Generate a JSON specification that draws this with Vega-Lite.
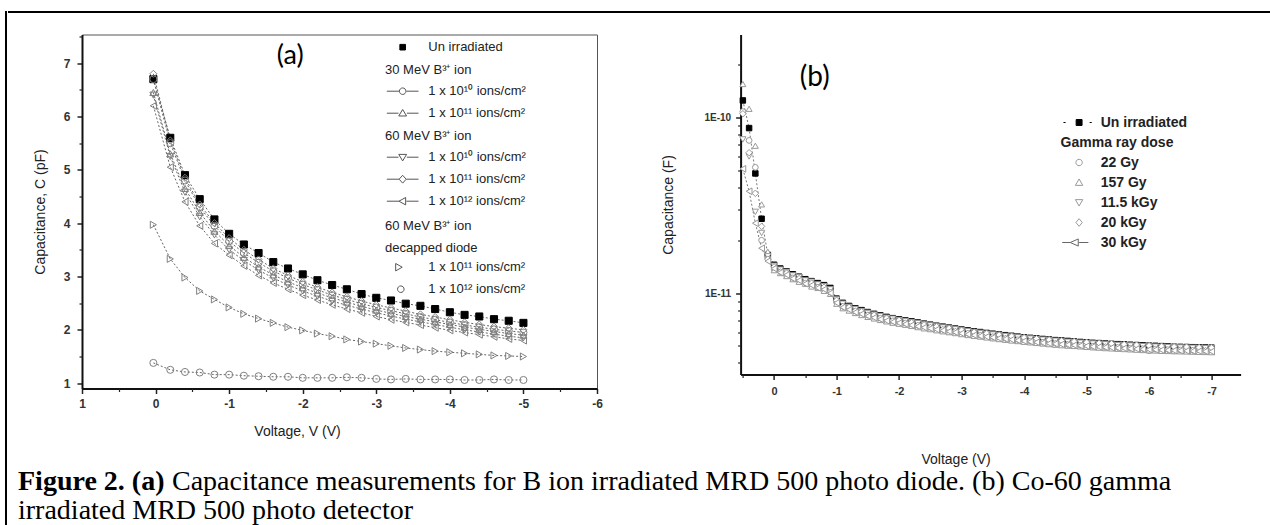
{
"$schema":"https://vega.github.io/schema/vega-lite/v6.json",
"padding":{"left":5,"top":5,"right":0,"bottom":0},
"background":"white",
"config":{"view":{"stroke":null},"font":"Liberation Sans"},
"datasets":{
"A":[
{"s":"a0","v":0.03,"c":6.7},{"s":"a0","v":-0.2,"c":5.6},{"s":"a0","v":-0.4,"c":4.9},{"s":"a0","v":-0.6,"c":4.45},{"s":"a0","v":-0.8,"c":4.07},{"s":"a0","v":-1,"c":3.8},{"s":"a0","v":-1.2,"c":3.6},{"s":"a0","v":-1.4,"c":3.44},{"s":"a0","v":-1.6,"c":3.27},{"s":"a0","v":-1.8,"c":3.15},{"s":"a0","v":-2,"c":3.04},{"s":"a0","v":-2.2,"c":2.93},{"s":"a0","v":-2.4,"c":2.84},{"s":"a0","v":-2.6,"c":2.76},{"s":"a0","v":-2.8,"c":2.67},{"s":"a0","v":-3,"c":2.6},{"s":"a0","v":-3.2,"c":2.55},{"s":"a0","v":-3.4,"c":2.49},{"s":"a0","v":-3.6,"c":2.45},{"s":"a0","v":-3.8,"c":2.39},{"s":"a0","v":-4,"c":2.33},{"s":"a0","v":-4.2,"c":2.28},{"s":"a0","v":-4.4,"c":2.25},{"s":"a0","v":-4.6,"c":2.2},{"s":"a0","v":-4.8,"c":2.17},{"s":"a0","v":-5,"c":2.13},
{"s":"a1","v":0.03,"c":6.7},{"s":"a1","v":-0.2,"c":5.5},{"s":"a1","v":-0.4,"c":4.8},{"s":"a1","v":-0.6,"c":4.3},{"s":"a1","v":-0.8,"c":3.95},{"s":"a1","v":-1,"c":3.66},{"s":"a1","v":-1.2,"c":3.44},{"s":"a1","v":-1.4,"c":3.26},{"s":"a1","v":-1.6,"c":3.1},{"s":"a1","v":-1.8,"c":2.97},{"s":"a1","v":-2,"c":2.85},{"s":"a1","v":-2.2,"c":2.75},{"s":"a1","v":-2.4,"c":2.65},{"s":"a1","v":-2.6,"c":2.57},{"s":"a1","v":-2.8,"c":2.49},{"s":"a1","v":-3,"c":2.42},{"s":"a1","v":-3.2,"c":2.36},{"s":"a1","v":-3.4,"c":2.3},{"s":"a1","v":-3.6,"c":2.24},{"s":"a1","v":-3.8,"c":2.19},{"s":"a1","v":-4,"c":2.14},{"s":"a1","v":-4.2,"c":2.09},{"s":"a1","v":-4.4,"c":2.05},{"s":"a1","v":-4.6,"c":2.01},{"s":"a1","v":-4.8,"c":1.98},{"s":"a1","v":-5,"c":1.95},
{"s":"a2","v":0.03,"c":6.45},{"s":"a2","v":-0.2,"c":5.3},{"s":"a2","v":-0.4,"c":4.65},{"s":"a2","v":-0.6,"c":4.2},{"s":"a2","v":-0.8,"c":3.85},{"s":"a2","v":-1,"c":3.58},{"s":"a2","v":-1.2,"c":3.36},{"s":"a2","v":-1.4,"c":3.18},{"s":"a2","v":-1.6,"c":3.03},{"s":"a2","v":-1.8,"c":2.9},{"s":"a2","v":-2,"c":2.79},{"s":"a2","v":-2.2,"c":2.69},{"s":"a2","v":-2.4,"c":2.6},{"s":"a2","v":-2.6,"c":2.52},{"s":"a2","v":-2.8,"c":2.44},{"s":"a2","v":-3,"c":2.37},{"s":"a2","v":-3.2,"c":2.31},{"s":"a2","v":-3.4,"c":2.25},{"s":"a2","v":-3.6,"c":2.2},{"s":"a2","v":-3.8,"c":2.15},{"s":"a2","v":-4,"c":2.1},{"s":"a2","v":-4.2,"c":2.05},{"s":"a2","v":-4.4,"c":2.01},{"s":"a2","v":-4.6,"c":1.97},{"s":"a2","v":-4.8,"c":1.93},{"s":"a2","v":-5,"c":1.9},
{"s":"a3","v":0.03,"c":6.4},{"s":"a3","v":-0.2,"c":5.25},{"s":"a3","v":-0.4,"c":4.58},{"s":"a3","v":-0.6,"c":4.12},{"s":"a3","v":-0.8,"c":3.78},{"s":"a3","v":-1,"c":3.5},{"s":"a3","v":-1.2,"c":3.3},{"s":"a3","v":-1.4,"c":3.12},{"s":"a3","v":-1.6,"c":2.97},{"s":"a3","v":-1.8,"c":2.84},{"s":"a3","v":-2,"c":2.73},{"s":"a3","v":-2.2,"c":2.63},{"s":"a3","v":-2.4,"c":2.54},{"s":"a3","v":-2.6,"c":2.46},{"s":"a3","v":-2.8,"c":2.39},{"s":"a3","v":-3,"c":2.32},{"s":"a3","v":-3.2,"c":2.26},{"s":"a3","v":-3.4,"c":2.2},{"s":"a3","v":-3.6,"c":2.15},{"s":"a3","v":-3.8,"c":2.1},{"s":"a3","v":-4,"c":2.05},{"s":"a3","v":-4.2,"c":2.0},{"s":"a3","v":-4.4,"c":1.96},{"s":"a3","v":-4.6,"c":1.92},{"s":"a3","v":-4.8,"c":1.88},{"s":"a3","v":-5,"c":1.85},
{"s":"a4","v":0.03,"c":6.8},{"s":"a4","v":-0.2,"c":5.55},{"s":"a4","v":-0.4,"c":4.85},{"s":"a4","v":-0.6,"c":4.35},{"s":"a4","v":-0.8,"c":4.0},{"s":"a4","v":-1,"c":3.72},{"s":"a4","v":-1.2,"c":3.5},{"s":"a4","v":-1.4,"c":3.32},{"s":"a4","v":-1.6,"c":3.15},{"s":"a4","v":-1.8,"c":3.02},{"s":"a4","v":-2,"c":2.9},{"s":"a4","v":-2.2,"c":2.8},{"s":"a4","v":-2.4,"c":2.7},{"s":"a4","v":-2.6,"c":2.62},{"s":"a4","v":-2.8,"c":2.54},{"s":"a4","v":-3,"c":2.47},{"s":"a4","v":-3.2,"c":2.41},{"s":"a4","v":-3.4,"c":2.35},{"s":"a4","v":-3.6,"c":2.29},{"s":"a4","v":-3.8,"c":2.24},{"s":"a4","v":-4,"c":2.19},{"s":"a4","v":-4.2,"c":2.14},{"s":"a4","v":-4.4,"c":2.1},{"s":"a4","v":-4.6,"c":2.06},{"s":"a4","v":-4.8,"c":2.03},{"s":"a4","v":-5,"c":2.0},
{"s":"a5","v":0.03,"c":6.2},{"s":"a5","v":-0.2,"c":5.05},{"s":"a5","v":-0.4,"c":4.4},{"s":"a5","v":-0.6,"c":3.95},{"s":"a5","v":-0.8,"c":3.62},{"s":"a5","v":-1,"c":3.4},{"s":"a5","v":-1.2,"c":3.2},{"s":"a5","v":-1.4,"c":3.02},{"s":"a5","v":-1.6,"c":2.88},{"s":"a5","v":-1.8,"c":2.76},{"s":"a5","v":-2,"c":2.65},{"s":"a5","v":-2.2,"c":2.56},{"s":"a5","v":-2.4,"c":2.47},{"s":"a5","v":-2.6,"c":2.39},{"s":"a5","v":-2.8,"c":2.32},{"s":"a5","v":-3,"c":2.25},{"s":"a5","v":-3.2,"c":2.19},{"s":"a5","v":-3.4,"c":2.14},{"s":"a5","v":-3.6,"c":2.09},{"s":"a5","v":-3.8,"c":2.04},{"s":"a5","v":-4,"c":1.99},{"s":"a5","v":-4.2,"c":1.95},{"s":"a5","v":-4.4,"c":1.91},{"s":"a5","v":-4.6,"c":1.87},{"s":"a5","v":-4.8,"c":1.83},{"s":"a5","v":-5,"c":1.8},
{"s":"a6","v":0.03,"c":3.97},{"s":"a6","v":-0.2,"c":3.33},{"s":"a6","v":-0.4,"c":2.98},{"s":"a6","v":-0.6,"c":2.73},{"s":"a6","v":-0.8,"c":2.57},{"s":"a6","v":-1,"c":2.42},{"s":"a6","v":-1.2,"c":2.3},{"s":"a6","v":-1.4,"c":2.21},{"s":"a6","v":-1.6,"c":2.13},{"s":"a6","v":-1.8,"c":2.05},{"s":"a6","v":-2,"c":1.99},{"s":"a6","v":-2.2,"c":1.93},{"s":"a6","v":-2.4,"c":1.88},{"s":"a6","v":-2.6,"c":1.82},{"s":"a6","v":-2.8,"c":1.78},{"s":"a6","v":-3,"c":1.74},{"s":"a6","v":-3.2,"c":1.7},{"s":"a6","v":-3.4,"c":1.66},{"s":"a6","v":-3.6,"c":1.63},{"s":"a6","v":-3.8,"c":1.6},{"s":"a6","v":-4,"c":1.58},{"s":"a6","v":-4.2,"c":1.56},{"s":"a6","v":-4.4,"c":1.54},{"s":"a6","v":-4.6,"c":1.52},{"s":"a6","v":-4.8,"c":1.51},{"s":"a6","v":-5,"c":1.5},
{"s":"a7","v":0.03,"c":1.38},{"s":"a7","v":-0.2,"c":1.25},{"s":"a7","v":-0.4,"c":1.21},{"s":"a7","v":-0.6,"c":1.2},{"s":"a7","v":-0.8,"c":1.16},{"s":"a7","v":-1,"c":1.16},{"s":"a7","v":-1.2,"c":1.14},{"s":"a7","v":-1.4,"c":1.13},{"s":"a7","v":-1.6,"c":1.12},{"s":"a7","v":-1.8,"c":1.12},{"s":"a7","v":-2,"c":1.1},{"s":"a7","v":-2.2,"c":1.1},{"s":"a7","v":-2.4,"c":1.1},{"s":"a7","v":-2.6,"c":1.11},{"s":"a7","v":-2.8,"c":1.1},{"s":"a7","v":-3,"c":1.08},{"s":"a7","v":-3.2,"c":1.07},{"s":"a7","v":-3.4,"c":1.08},{"s":"a7","v":-3.6,"c":1.07},{"s":"a7","v":-3.8,"c":1.07},{"s":"a7","v":-4,"c":1.07},{"s":"a7","v":-4.2,"c":1.06},{"s":"a7","v":-4.4,"c":1.06},{"s":"a7","v":-4.6,"c":1.07},{"s":"a7","v":-4.8,"c":1.06},{"s":"a7","v":-5,"c":1.06}
],
"B":[
{"s":"u","v":0.5,"c":125e-12},{"s":"u","v":0.4,"c":87e-12},{"s":"u","v":0.3,"c":48e-12},{"s":"u","v":0.2,"c":26.5e-12},{"s":"u","v":0.1,"c":16.5e-12},{"s":"u","v":0,"c":14.5e-12},{"s":"u","v":-0.1,"c":13.8e-12},{"s":"u","v":-0.2,"c":13.3e-12},{"s":"u","v":-0.3,"c":12.8e-12},{"s":"u","v":-0.4,"c":12.4e-12},{"s":"u","v":-0.5,"c":12.0e-12},{"s":"u","v":-0.6,"c":11.7e-12},{"s":"u","v":-0.7,"c":11.4e-12},{"s":"u","v":-0.8,"c":11.1e-12},{"s":"u","v":-0.9,"c":10.7e-12},{"s":"u","v":-1.0,"c":9.3e-12},{"s":"u","v":-1.1,"c":8.8e-12},{"s":"u","v":-1.2,"c":8.45e-12},{"s":"u","v":-1.3,"c":8.2e-12},{"s":"u","v":-1.4,"c":8.0e-12},{"s":"u","v":-1.5,"c":7.8e-12},{"s":"u","v":-1.6,"c":7.62e-12},{"s":"u","v":-1.7,"c":7.47e-12},{"s":"u","v":-1.8,"c":7.32e-12},{"s":"u","v":-1.9,"c":7.2e-12},{"s":"u","v":-2.0,"c":7.1e-12},{"s":"u","v":-2.1,"c":7.0e-12},{"s":"u","v":-2.2,"c":6.9e-12},{"s":"u","v":-2.3,"c":6.8e-12},{"s":"u","v":-2.4,"c":6.7e-12},{"s":"u","v":-2.5,"c":6.61e-12},{"s":"u","v":-2.6,"c":6.52e-12},{"s":"u","v":-2.7,"c":6.44e-12},{"s":"u","v":-2.8,"c":6.36e-12},{"s":"u","v":-2.9,"c":6.28e-12},{"s":"u","v":-3.0,"c":6.2e-12},{"s":"u","v":-3.1,"c":6.13e-12},{"s":"u","v":-3.2,"c":6.06e-12},{"s":"u","v":-3.3,"c":6.0e-12},{"s":"u","v":-3.4,"c":5.93e-12},{"s":"u","v":-3.5,"c":5.87e-12},{"s":"u","v":-3.6,"c":5.81e-12},{"s":"u","v":-3.7,"c":5.76e-12},{"s":"u","v":-3.8,"c":5.71e-12},{"s":"u","v":-3.9,"c":5.65e-12},{"s":"u","v":-4.0,"c":5.6e-12},{"s":"u","v":-4.1,"c":5.56e-12},{"s":"u","v":-4.2,"c":5.52e-12},{"s":"u","v":-4.3,"c":5.48e-12},{"s":"u","v":-4.4,"c":5.44e-12},{"s":"u","v":-4.5,"c":5.4e-12},{"s":"u","v":-4.6,"c":5.37e-12},{"s":"u","v":-4.7,"c":5.34e-12},{"s":"u","v":-4.8,"c":5.3e-12},{"s":"u","v":-4.9,"c":5.27e-12},{"s":"u","v":-5.0,"c":5.24e-12},{"s":"u","v":-5.1,"c":5.21e-12},{"s":"u","v":-5.2,"c":5.19e-12},{"s":"u","v":-5.3,"c":5.16e-12},{"s":"u","v":-5.4,"c":5.14e-12},{"s":"u","v":-5.5,"c":5.12e-12},{"s":"u","v":-5.6,"c":5.1e-12},{"s":"u","v":-5.7,"c":5.08e-12},{"s":"u","v":-5.8,"c":5.06e-12},{"s":"u","v":-5.9,"c":5.04e-12},{"s":"u","v":-6.0,"c":5.02e-12},{"s":"u","v":-6.1,"c":5.01e-12},{"s":"u","v":-6.2,"c":4.99e-12},{"s":"u","v":-6.3,"c":4.97e-12},{"s":"u","v":-6.4,"c":4.95e-12},{"s":"u","v":-6.5,"c":4.94e-12},{"s":"u","v":-6.6,"c":4.93e-12},{"s":"u","v":-6.7,"c":4.92e-12},{"s":"u","v":-6.8,"c":4.91e-12},{"s":"u","v":-6.9,"c":4.9e-12},{"s":"u","v":-7.0,"c":4.89e-12},
{"s":"g1","v":0.5,"c":108e-12},{"s":"g1","v":0.4,"c":74e-12},{"s":"g1","v":0.3,"c":52e-12},{"s":"g1","v":0.2,"c":20e-12},{"s":"g1","v":0.1,"c":15.8e-12},{"s":"g1","v":0,"c":13.7e-12},{"s":"g1","v":-0.1,"c":13.3e-12},{"s":"g1","v":-0.2,"c":12.6e-12},{"s":"g1","v":-0.3,"c":12.3e-12},{"s":"g1","v":-0.4,"c":11.8e-12},{"s":"g1","v":-0.5,"c":11.5e-12},{"s":"g1","v":-0.6,"c":11.1e-12},{"s":"g1","v":-0.7,"c":10.9e-12},{"s":"g1","v":-0.8,"c":10.5e-12},{"s":"g1","v":-0.9,"c":10.2e-12},{"s":"g1","v":-1.0,"c":8.9e-12},{"s":"g1","v":-1.1,"c":8.3e-12},{"s":"g1","v":-1.2,"c":8.15e-12},{"s":"g1","v":-1.3,"c":7.8e-12},{"s":"g1","v":-1.4,"c":7.7e-12},{"s":"g1","v":-1.5,"c":7.45e-12},{"s":"g1","v":-1.6,"c":7.35e-12},{"s":"g1","v":-1.7,"c":7.15e-12},{"s":"g1","v":-1.8,"c":7.05e-12},{"s":"g1","v":-1.9,"c":6.9e-12},{"s":"g1","v":-2.0,"c":6.85e-12},{"s":"g1","v":-2.1,"c":6.7e-12},{"s":"g1","v":-2.2,"c":6.65e-12},{"s":"g1","v":-2.3,"c":6.5e-12},{"s":"g1","v":-2.4,"c":6.45e-12},{"s":"g1","v":-2.5,"c":6.3e-12},{"s":"g1","v":-2.6,"c":6.3e-12},{"s":"g1","v":-2.7,"c":6.15e-12},{"s":"g1","v":-2.8,"c":6.12e-12},{"s":"g1","v":-2.9,"c":6.0e-12},{"s":"g1","v":-3.0,"c":5.98e-12},{"s":"g1","v":-3.1,"c":5.85e-12},{"s":"g1","v":-3.2,"c":5.84e-12},{"s":"g1","v":-3.3,"c":5.72e-12},{"s":"g1","v":-3.4,"c":5.72e-12},{"s":"g1","v":-3.5,"c":5.55e-12},{"s":"g1","v":-3.6,"c":5.6e-12},{"s":"g1","v":-3.7,"c":5.5e-12},{"s":"g1","v":-3.8,"c":5.5e-12},{"s":"g1","v":-3.9,"c":5.4e-12},{"s":"g1","v":-4.0,"c":5.41e-12},{"s":"g1","v":-4.1,"c":5.3e-12},{"s":"g1","v":-4.2,"c":5.33e-12},{"s":"g1","v":-4.3,"c":5.22e-12},{"s":"g1","v":-4.4,"c":5.26e-12},{"s":"g1","v":-4.5,"c":5.15e-12},{"s":"g1","v":-4.6,"c":5.19e-12},{"s":"g1","v":-4.7,"c":5.08e-12},{"s":"g1","v":-4.8,"c":5.14e-12},{"s":"g1","v":-4.9,"c":5.03e-12},{"s":"g1","v":-5.0,"c":5.08e-12},{"s":"g1","v":-5.1,"c":4.97e-12},{"s":"g1","v":-5.2,"c":5.03e-12},{"s":"g1","v":-5.3,"c":4.93e-12},{"s":"g1","v":-5.4,"c":4.98e-12},{"s":"g1","v":-5.5,"c":4.88e-12},{"s":"g1","v":-5.6,"c":4.95e-12},{"s":"g1","v":-5.7,"c":4.85e-12},{"s":"g1","v":-5.8,"c":4.9e-12},{"s":"g1","v":-5.9,"c":4.78e-12},{"s":"g1","v":-6.0,"c":4.7e-12},{"s":"g1","v":-6.1,"c":4.8e-12},{"s":"g1","v":-6.2,"c":4.84e-12},{"s":"g1","v":-6.3,"c":4.75e-12},{"s":"g1","v":-6.4,"c":4.68e-12},{"s":"g1","v":-6.5,"c":4.77e-12},{"s":"g1","v":-6.6,"c":4.8e-12},{"s":"g1","v":-6.7,"c":4.7e-12},{"s":"g1","v":-6.8,"c":4.76e-12},{"s":"g1","v":-6.9,"c":4.72e-12},{"s":"g1","v":-7.0,"c":4.74e-12},
{"s":"g2","v":0.5,"c":155e-12},{"s":"g2","v":0.4,"c":112e-12},{"s":"g2","v":0.3,"c":69e-12},{"s":"g2","v":0.2,"c":32e-12},{"s":"g2","v":0.1,"c":17.2e-12},{"s":"g2","v":0,"c":13.5e-12},{"s":"g2","v":-0.1,"c":13.0e-12},{"s":"g2","v":-0.2,"c":12.5e-12},{"s":"g2","v":-0.3,"c":12.0e-12},{"s":"g2","v":-0.4,"c":11.6e-12},{"s":"g2","v":-0.5,"c":11.3e-12},{"s":"g2","v":-0.6,"c":10.9e-12},{"s":"g2","v":-0.7,"c":10.7e-12},{"s":"g2","v":-0.8,"c":10.3e-12},{"s":"g2","v":-0.9,"c":9.9e-12},{"s":"g2","v":-1.0,"c":8.7e-12},{"s":"g2","v":-1.1,"c":8.2e-12},{"s":"g2","v":-1.2,"c":7.95e-12},{"s":"g2","v":-1.3,"c":7.7e-12},{"s":"g2","v":-1.4,"c":7.5e-12},{"s":"g2","v":-1.5,"c":7.32e-12},{"s":"g2","v":-1.6,"c":7.17e-12},{"s":"g2","v":-1.7,"c":7.03e-12},{"s":"g2","v":-1.8,"c":6.9e-12},{"s":"g2","v":-1.9,"c":6.78e-12},{"s":"g2","v":-2.0,"c":6.69e-12},{"s":"g2","v":-2.1,"c":6.6e-12},{"s":"g2","v":-2.2,"c":6.5e-12},{"s":"g2","v":-2.3,"c":6.4e-12},{"s":"g2","v":-2.4,"c":6.3e-12},{"s":"g2","v":-2.5,"c":6.23e-12},{"s":"g2","v":-2.6,"c":6.14e-12},{"s":"g2","v":-2.7,"c":6.06e-12},{"s":"g2","v":-2.8,"c":5.99e-12},{"s":"g2","v":-2.9,"c":5.92e-12},{"s":"g2","v":-3.0,"c":5.84e-12},{"s":"g2","v":-3.1,"c":5.77e-12},{"s":"g2","v":-3.2,"c":5.71e-12},{"s":"g2","v":-3.3,"c":5.65e-12},{"s":"g2","v":-3.4,"c":5.59e-12},{"s":"g2","v":-3.5,"c":5.53e-12},{"s":"g2","v":-3.6,"c":5.47e-12},{"s":"g2","v":-3.7,"c":5.42e-12},{"s":"g2","v":-3.8,"c":5.37e-12},{"s":"g2","v":-3.9,"c":5.33e-12},{"s":"g2","v":-4.0,"c":5.28e-12},{"s":"g2","v":-4.1,"c":5.24e-12},{"s":"g2","v":-4.2,"c":5.2e-12},{"s":"g2","v":-4.3,"c":5.16e-12},{"s":"g2","v":-4.4,"c":5.12e-12},{"s":"g2","v":-4.5,"c":5.08e-12},{"s":"g2","v":-4.6,"c":5.05e-12},{"s":"g2","v":-4.7,"c":5.02e-12},{"s":"g2","v":-4.8,"c":5.0e-12},{"s":"g2","v":-4.9,"c":4.97e-12},{"s":"g2","v":-5.0,"c":4.94e-12},{"s":"g2","v":-5.1,"c":4.91e-12},{"s":"g2","v":-5.2,"c":4.89e-12},{"s":"g2","v":-5.3,"c":4.86e-12},{"s":"g2","v":-5.4,"c":4.84e-12},{"s":"g2","v":-5.5,"c":4.82e-12},{"s":"g2","v":-5.6,"c":4.8e-12},{"s":"g2","v":-5.7,"c":4.78e-12},{"s":"g2","v":-5.8,"c":4.76e-12},{"s":"g2","v":-5.9,"c":4.74e-12},{"s":"g2","v":-6.0,"c":4.72e-12},{"s":"g2","v":-6.1,"c":4.71e-12},{"s":"g2","v":-6.2,"c":4.69e-12},{"s":"g2","v":-6.3,"c":4.68e-12},{"s":"g2","v":-6.4,"c":4.67e-12},{"s":"g2","v":-6.5,"c":4.66e-12},{"s":"g2","v":-6.6,"c":4.65e-12},{"s":"g2","v":-6.7,"c":4.64e-12},{"s":"g2","v":-6.8,"c":4.63e-12},{"s":"g2","v":-6.9,"c":4.62e-12},{"s":"g2","v":-7.0,"c":4.61e-12},
{"s":"g3","v":0.5,"c":75e-12},{"s":"g3","v":0.4,"c":60e-12},{"s":"g3","v":0.3,"c":29e-12},{"s":"g3","v":0.2,"c":22e-12},{"s":"g3","v":0.1,"c":16.2e-12},{"s":"g3","v":0,"c":14.3e-12},{"s":"g3","v":-0.1,"c":13.6e-12},{"s":"g3","v":-0.2,"c":13.2e-12},{"s":"g3","v":-0.3,"c":12.6e-12},{"s":"g3","v":-0.4,"c":12.3e-12},{"s":"g3","v":-0.5,"c":11.8e-12},{"s":"g3","v":-0.6,"c":11.6e-12},{"s":"g3","v":-0.7,"c":11.2e-12},{"s":"g3","v":-0.8,"c":10.95e-12},{"s":"g3","v":-0.9,"c":10.5e-12},{"s":"g3","v":-1.0,"c":9.2e-12},{"s":"g3","v":-1.1,"c":8.7e-12},{"s":"g3","v":-1.2,"c":8.35e-12},{"s":"g3","v":-1.3,"c":8.12e-12},{"s":"g3","v":-1.4,"c":7.9e-12},{"s":"g3","v":-1.5,"c":7.72e-12},{"s":"g3","v":-1.6,"c":7.54e-12},{"s":"g3","v":-1.7,"c":7.4e-12},{"s":"g3","v":-1.8,"c":7.24e-12},{"s":"g3","v":-1.9,"c":7.15e-12},{"s":"g3","v":-2.0,"c":7.03e-12},{"s":"g3","v":-2.1,"c":6.94e-12},{"s":"g3","v":-2.2,"c":6.83e-12},{"s":"g3","v":-2.3,"c":6.74e-12},{"s":"g3","v":-2.4,"c":6.63e-12},{"s":"g3","v":-2.5,"c":6.55e-12},{"s":"g3","v":-2.6,"c":6.46e-12},{"s":"g3","v":-2.7,"c":6.37e-12},{"s":"g3","v":-2.8,"c":6.3e-12},{"s":"g3","v":-2.9,"c":6.22e-12},{"s":"g3","v":-3.0,"c":6.14e-12},{"s":"g3","v":-3.1,"c":6.07e-12},{"s":"g3","v":-3.2,"c":6.0e-12},{"s":"g3","v":-3.3,"c":5.94e-12},{"s":"g3","v":-3.4,"c":5.87e-12},{"s":"g3","v":-3.5,"c":5.81e-12},{"s":"g3","v":-3.6,"c":5.75e-12},{"s":"g3","v":-3.7,"c":5.7e-12},{"s":"g3","v":-3.8,"c":5.65e-12},{"s":"g3","v":-3.9,"c":5.6e-12},{"s":"g3","v":-4.0,"c":5.55e-12},{"s":"g3","v":-4.1,"c":5.51e-12},{"s":"g3","v":-4.2,"c":5.47e-12},{"s":"g3","v":-4.3,"c":5.43e-12},{"s":"g3","v":-4.4,"c":5.39e-12},{"s":"g3","v":-4.5,"c":5.35e-12},{"s":"g3","v":-4.6,"c":5.31e-12},{"s":"g3","v":-4.7,"c":5.28e-12},{"s":"g3","v":-4.8,"c":5.25e-12},{"s":"g3","v":-4.9,"c":5.22e-12},{"s":"g3","v":-5.0,"c":5.19e-12},{"s":"g3","v":-5.1,"c":5.16e-12},{"s":"g3","v":-5.2,"c":5.14e-12},{"s":"g3","v":-5.3,"c":5.11e-12},{"s":"g3","v":-5.4,"c":5.09e-12},{"s":"g3","v":-5.5,"c":5.07e-12},{"s":"g3","v":-5.6,"c":5.05e-12},{"s":"g3","v":-5.7,"c":5.03e-12},{"s":"g3","v":-5.8,"c":5.01e-12},{"s":"g3","v":-5.9,"c":4.99e-12},{"s":"g3","v":-6.0,"c":4.97e-12},{"s":"g3","v":-6.1,"c":4.96e-12},{"s":"g3","v":-6.2,"c":4.94e-12},{"s":"g3","v":-6.3,"c":4.93e-12},{"s":"g3","v":-6.4,"c":4.91e-12},{"s":"g3","v":-6.5,"c":4.9e-12},{"s":"g3","v":-6.6,"c":4.89e-12},{"s":"g3","v":-6.7,"c":4.88e-12},{"s":"g3","v":-6.8,"c":4.87e-12},{"s":"g3","v":-6.9,"c":4.86e-12},{"s":"g3","v":-7.0,"c":4.85e-12},
{"s":"g4","v":0.5,"c":105e-12},{"s":"g4","v":0.4,"c":63e-12},{"s":"g4","v":0.3,"c":37e-12},{"s":"g4","v":0.2,"c":24e-12},{"s":"g4","v":0.1,"c":15.6e-12},{"s":"g4","v":0,"c":14.1e-12},{"s":"g4","v":-0.1,"c":13.2e-12},{"s":"g4","v":-0.2,"c":13.0e-12},{"s":"g4","v":-0.3,"c":12.2e-12},{"s":"g4","v":-0.4,"c":12.1e-12},{"s":"g4","v":-0.5,"c":11.4e-12},{"s":"g4","v":-0.6,"c":11.4e-12},{"s":"g4","v":-0.7,"c":10.8e-12},{"s":"g4","v":-0.8,"c":10.8e-12},{"s":"g4","v":-0.9,"c":10.1e-12},{"s":"g4","v":-1.0,"c":9.1e-12},{"s":"g4","v":-1.1,"c":8.4e-12},{"s":"g4","v":-1.2,"c":8.3e-12},{"s":"g4","v":-1.3,"c":7.9e-12},{"s":"g4","v":-1.4,"c":7.85e-12},{"s":"g4","v":-1.5,"c":7.5e-12},{"s":"g4","v":-1.6,"c":7.5e-12},{"s":"g4","v":-1.7,"c":7.2e-12},{"s":"g4","v":-1.8,"c":7.2e-12},{"s":"g4","v":-1.9,"c":6.95e-12},{"s":"g4","v":-2.0,"c":7.0e-12},{"s":"g4","v":-2.1,"c":6.75e-12},{"s":"g4","v":-2.2,"c":6.8e-12},{"s":"g4","v":-2.3,"c":6.55e-12},{"s":"g4","v":-2.4,"c":6.6e-12},{"s":"g4","v":-2.5,"c":6.38e-12},{"s":"g4","v":-2.6,"c":6.45e-12},{"s":"g4","v":-2.7,"c":6.2e-12},{"s":"g4","v":-2.8,"c":6.3e-12},{"s":"g4","v":-2.9,"c":6.05e-12},{"s":"g4","v":-3.0,"c":6.15e-12},{"s":"g4","v":-3.1,"c":5.9e-12},{"s":"g4","v":-3.2,"c":6.0e-12},{"s":"g4","v":-3.3,"c":5.76e-12},{"s":"g4","v":-3.4,"c":5.9e-12},{"s":"g4","v":-3.5,"c":5.64e-12},{"s":"g4","v":-3.6,"c":5.78e-12},{"s":"g4","v":-3.7,"c":5.52e-12},{"s":"g4","v":-3.8,"c":5.68e-12},{"s":"g4","v":-3.9,"c":5.42e-12},{"s":"g4","v":-4.0,"c":5.58e-12},{"s":"g4","v":-4.1,"c":5.33e-12},{"s":"g4","v":-4.2,"c":5.5e-12},{"s":"g4","v":-4.3,"c":5.25e-12},{"s":"g4","v":-4.4,"c":5.42e-12},{"s":"g4","v":-4.5,"c":5.17e-12},{"s":"g4","v":-4.6,"c":5.35e-12},{"s":"g4","v":-4.7,"c":5.1e-12},{"s":"g4","v":-4.8,"c":5.3e-12},{"s":"g4","v":-4.9,"c":5.05e-12},{"s":"g4","v":-5.0,"c":5.25e-12},{"s":"g4","v":-5.1,"c":4.99e-12},{"s":"g4","v":-5.2,"c":5.2e-12},{"s":"g4","v":-5.3,"c":4.94e-12},{"s":"g4","v":-5.4,"c":5.15e-12},{"s":"g4","v":-5.5,"c":4.9e-12},{"s":"g4","v":-5.6,"c":5.1e-12},{"s":"g4","v":-5.7,"c":4.86e-12},{"s":"g4","v":-5.8,"c":5.06e-12},{"s":"g4","v":-5.9,"c":4.82e-12},{"s":"g4","v":-6.0,"c":5.02e-12},{"s":"g4","v":-6.1,"c":4.8e-12},{"s":"g4","v":-6.2,"c":4.98e-12},{"s":"g4","v":-6.3,"c":4.76e-12},{"s":"g4","v":-6.4,"c":4.95e-12},{"s":"g4","v":-6.5,"c":4.74e-12},{"s":"g4","v":-6.6,"c":4.93e-12},{"s":"g4","v":-6.7,"c":4.72e-12},{"s":"g4","v":-6.8,"c":4.9e-12},{"s":"g4","v":-6.9,"c":4.7e-12},{"s":"g4","v":-7.0,"c":4.88e-12},
{"s":"g5","v":0.5,"c":51e-12},{"s":"g5","v":0.4,"c":38e-12},{"s":"g5","v":0.3,"c":25e-12},{"s":"g5","v":0.2,"c":18e-12},{"s":"g5","v":0.1,"c":15.2e-12},{"s":"g5","v":0,"c":13.8e-12},{"s":"g5","v":-0.1,"c":13.1e-12},{"s":"g5","v":-0.2,"c":12.7e-12},{"s":"g5","v":-0.3,"c":12.1e-12},{"s":"g5","v":-0.4,"c":11.8e-12},{"s":"g5","v":-0.5,"c":11.3e-12},{"s":"g5","v":-0.6,"c":11.1e-12},{"s":"g5","v":-0.7,"c":10.7e-12},{"s":"g5","v":-0.8,"c":10.5e-12},{"s":"g5","v":-0.9,"c":10.0e-12},{"s":"g5","v":-1.0,"c":8.8e-12},{"s":"g5","v":-1.1,"c":8.3e-12},{"s":"g5","v":-1.2,"c":8.05e-12},{"s":"g5","v":-1.3,"c":7.78e-12},{"s":"g5","v":-1.4,"c":7.6e-12},{"s":"g5","v":-1.5,"c":7.4e-12},{"s":"g5","v":-1.6,"c":7.25e-12},{"s":"g5","v":-1.7,"c":7.1e-12},{"s":"g5","v":-1.8,"c":6.96e-12},{"s":"g5","v":-1.9,"c":6.86e-12},{"s":"g5","v":-2.0,"c":6.76e-12},{"s":"g5","v":-2.1,"c":6.66e-12},{"s":"g5","v":-2.2,"c":6.57e-12},{"s":"g5","v":-2.3,"c":6.47e-12},{"s":"g5","v":-2.4,"c":6.37e-12},{"s":"g5","v":-2.5,"c":6.29e-12},{"s":"g5","v":-2.6,"c":6.2e-12},{"s":"g5","v":-2.7,"c":6.13e-12},{"s":"g5","v":-2.8,"c":6.05e-12},{"s":"g5","v":-2.9,"c":5.98e-12},{"s":"g5","v":-3.0,"c":5.9e-12},{"s":"g5","v":-3.1,"c":5.83e-12},{"s":"g5","v":-3.2,"c":5.76e-12},{"s":"g5","v":-3.3,"c":5.7e-12},{"s":"g5","v":-3.4,"c":5.64e-12},{"s":"g5","v":-3.5,"c":5.59e-12},{"s":"g5","v":-3.6,"c":5.53e-12},{"s":"g5","v":-3.7,"c":5.48e-12},{"s":"g5","v":-3.8,"c":5.43e-12},{"s":"g5","v":-3.9,"c":5.38e-12},{"s":"g5","v":-4.0,"c":5.33e-12},{"s":"g5","v":-4.1,"c":5.29e-12},{"s":"g5","v":-4.2,"c":5.25e-12},{"s":"g5","v":-4.3,"c":5.21e-12},{"s":"g5","v":-4.4,"c":5.17e-12},{"s":"g5","v":-4.5,"c":5.14e-12},{"s":"g5","v":-4.6,"c":5.11e-12},{"s":"g5","v":-4.7,"c":5.08e-12},{"s":"g5","v":-4.8,"c":5.05e-12},{"s":"g5","v":-4.9,"c":5.02e-12},{"s":"g5","v":-5.0,"c":4.99e-12},{"s":"g5","v":-5.1,"c":4.96e-12},{"s":"g5","v":-5.2,"c":4.94e-12},{"s":"g5","v":-5.3,"c":4.91e-12},{"s":"g5","v":-5.4,"c":4.89e-12},{"s":"g5","v":-5.5,"c":4.87e-12},{"s":"g5","v":-5.6,"c":4.85e-12},{"s":"g5","v":-5.7,"c":4.83e-12},{"s":"g5","v":-5.8,"c":4.81e-12},{"s":"g5","v":-5.9,"c":4.79e-12},{"s":"g5","v":-6.0,"c":4.77e-12},{"s":"g5","v":-6.1,"c":4.76e-12},{"s":"g5","v":-6.2,"c":4.74e-12},{"s":"g5","v":-6.3,"c":4.73e-12},{"s":"g5","v":-6.4,"c":4.71e-12},{"s":"g5","v":-6.5,"c":4.7e-12},{"s":"g5","v":-6.6,"c":4.69e-12},{"s":"g5","v":-6.7,"c":4.68e-12},{"s":"g5","v":-6.8,"c":4.67e-12},{"s":"g5","v":-6.9,"c":4.66e-12},{"s":"g5","v":-7.0,"c":4.65e-12}
]
},
"spacing":0,
"hconcat":[
 {"width":0.001,"height":517,"data":{"values":[{}]},"mark":{"type":"text"},"encoding":{"text":{"value":""}},"view":{"stroke":"#000","strokeWidth":2}},
 {"spacing":9.5,"vconcat":[
  {"width":1260,"height":0.001,"data":{"values":[{}]},"mark":{"type":"text"},"encoding":{"text":{"value":""}},"view":{"stroke":"#000","strokeWidth":2}},
  {"spacing":1,"vconcat":[
   {"spacing":0,"hconcat":[
    {"width":23,"height":1,"data":{"values":[{}]},"mark":{"type":"text"},"encoding":{"text":{"value":""}}},
    {"spacing":58.6,"hconcat":[
     {"width":515,"height":354,
      "view":{"stroke":"#555","strokeWidth":1},
      "resolve":{"scale":{"shape":"independent","fill":"independent","stroke":"independent"},"axis":{"x":"independent","y":"independent"}},
      "layer":[
       {"data":{"name":"A"},"mark":{"type":"line","strokeDash":[2,2],"strokeWidth":1,"color":"#666"},
        "encoding":{
         "x":{"field":"v","type":"quantitative","scale":{"domain":[-6,1],"reverse":true,"nice":false,"zero":false},
          "axis":{"orient":"bottom","values":[1,0,-1,-2,-3,-4,-5,-6],"labelExpr":"'' + datum.value","title":"Voltage, V (V)","titleFont":"Liberation Sans","titleFontSize":14,"titleFontWeight":"normal","titleColor":"#222","titleX":215,"titleY":43,"titleBaseline":"middle","labelFont":"Liberation Sans","labelFontSize":12,"labelFontWeight":"bold","labelColor":"#333","labelPadding":5,"tickSize":5,"tickWidth":1.5,"tickColor":"#222","domainColor":"#111","domainWidth":2,"grid":false,"labelFlush":false,"labelOverlap":false}},
         "y":{"field":"c","type":"quantitative","scale":{"domain":[0.9,7.537],"nice":false,"zero":false},
          "axis":{"orient":"left","values":[1,2,3,4,5,6,7],"labelExpr":"'' + datum.value","title":"Capacitance, C (pF)","titleFont":"Liberation Sans","titleFontSize":14,"titleFontWeight":"normal","titleColor":"#222","titleX":-42,"titleY":177,"titleBaseline":"middle","titleAlign":"center","titleAngle":270,"labelFont":"Liberation Sans","labelFontSize":12,"labelFontWeight":"bold","labelColor":"#333","labelPadding":7,"tickSize":5,"tickWidth":1.5,"tickColor":"#222","domainColor":"#111","domainWidth":2,"grid":false,"labelFlush":false,"labelOverlap":false}},
         "detail":{"field":"s","type":"nominal"}}},
       {"data":{"name":"A"},"mark":{"type":"point","size":50,"strokeWidth":1,"opacity":1},
        "encoding":{
         "x":{"field":"v","type":"quantitative","axis":null},
         "y":{"field":"c","type":"quantitative","axis":null},
         "shape":{"field":"s","type":"nominal","scale":{"domain":["a0","a1","a2","a3","a4","a5","a6","a7"],"range":["square","circle","triangle-up","triangle-down","diamond","triangle-left","triangle-right","circle"]},"legend":null},
         "fill":{"field":"s","type":"nominal","scale":{"domain":["a0","a1","a2","a3","a4","a5","a6","a7"],"range":["#000","transparent","transparent","transparent","transparent","transparent","transparent","transparent"]},"legend":null},
         "stroke":{"field":"s","type":"nominal","scale":{"domain":["a0","a1","a2","a3","a4","a5","a6","a7"],"range":["#000","#808080","#808080","#808080","#808080","#808080","#808080","#808080"]},"legend":null}}},
       {"data":{"values":[]},"mark":{"type":"point","opacity":1,"strokeWidth":1,"filled":true},
        "encoding":{
         "x":{"field":"v","type":"quantitative","axis":{"orient":"bottom","values":[0.5,-0.5,-1.5,-2.5,-3.5,-4.5,-5.5],"labels":false,"domain":false,"tickSize":3,"tickWidth":1.2,"tickColor":"#222","title":null,"grid":false}},
         "y":{"field":"c","type":"quantitative","axis":{"orient":"left","values":[1.5,2.5,3.5,4.5,5.5,6.5,7.5],"labels":false,"domain":false,"tickSize":3,"tickWidth":1.2,"tickColor":"#222","title":null,"grid":false}},
         "shape":{"field":"s","type":"nominal","scale":{"domain":["a0","h1","a1","a2","h2","a3","a4","a5","h3","h4","a6","a7"],"range":[
           "M-1.7,-1M1.7,1M-0.3,-0.3H0.3V0.3H-0.3Z",
           "M-1.7,-1M1.7,1",
           "M-1.7,-1M1.7,1M-1.7,0H-0.4M0.4,0H1.7M0.35,0A0.35,0.35 0 1 1 -0.35,0A0.35,0.35 0 1 1 0.35,0",
           "M-1.7,-1M1.7,1M-1.7,0H-0.45M0.45,0H1.7M0,-0.4L0.42,0.3L-0.42,0.3Z",
           "M-1.7,-1M1.7,1",
           "M-1.7,-1M1.7,1M-1.7,0H-0.45M0.45,0H1.7M0,0.4L0.42,-0.3L-0.42,-0.3Z",
           "M-1.7,-1M1.7,1M-1.7,0H-0.4M0.4,0H1.7M0,-0.42L0.38,0L0,0.42L-0.38,0Z",
           "M-1.7,-1M1.7,1M-1.7,0H-0.4M0.4,0H1.7M-0.4,0L0.32,-0.4L0.32,0.4Z",
           "M-1.7,-1M1.7,1",
           "M-1.7,-1M1.7,1",
           "M-1.7,-1M1.7,1M-0.05,0L-0.75,-0.4L-0.75,0.4Z",
           "M-1.7,-1M1.7,1M0.15,0A0.35,0.35 0 1 1 -0.55,0A0.35,0.35 0 1 1 0.15,0"]},
          "legend":{"orient":"none","legendX":310.67,"legendY":2.7,"title":null,"symbolSize":348,"symbolStrokeWidth":1,"labelOffset":15.68,"rowPadding":-3,"padding":0,"labelFont":"Liberation Sans","labelFontSize":13,"labelColor":"#222","labelLimit":300,
           "labelExpr":"['Un irradiated','','1 x 10¹⁰ ions/cm²','1 x 10¹¹ ions/cm²','','1 x 10¹⁰ ions/cm²','1 x 10¹¹ ions/cm²','1 x 10¹² ions/cm²','','','1 x 10¹¹ ions/cm²','1 x 10¹² ions/cm²'][indexof(['a0','h1','a1','a2','h2','a3','a4','a5','h3','h4','a6','a7'], datum.value)]"}},
         "fill":{"field":"s","type":"nominal","scale":{"domain":["a0","h1","a1","a2","h2","a3","a4","a5","h3","h4","a6","a7"],"range":["#000","transparent","transparent","transparent","transparent","transparent","transparent","transparent","transparent","transparent","transparent","transparent"]},
          "legend":{"orient":"none","legendX":310.67,"legendY":2.7,"title":null,"symbolSize":348,"symbolStrokeWidth":1,"labelOffset":15.68,"rowPadding":-3,"padding":0,"labelFont":"Liberation Sans","labelFontSize":13,"labelColor":"#222","labelLimit":300}},
         "stroke":{"field":"s","type":"nominal","scale":{"domain":["a0","h1","a1","a2","h2","a3","a4","a5","h3","h4","a6","a7"],"range":["#000","#555","#555","#555","#555","#555","#555","#555","#555","#555","#555","#555"]},
          "legend":{"orient":"none","legendX":310.67,"legendY":2.7,"title":null,"symbolSize":348,"symbolStrokeWidth":1,"labelOffset":15.68,"rowPadding":-3,"padding":0,"labelFont":"Liberation Sans","labelFontSize":13,"labelColor":"#222","labelLimit":300}}}},
       {"data":{"values":[{}]},"mark":{"type":"text","align":"left","baseline":"middle","font":"Liberation Sans","fontSize":13,"color":"#222"},
        "encoding":{"x":{"datum":-3.119,"type":"quantitative","axis":null},"y":{"datum":6.863,"type":"quantitative","axis":null},"text":{"value":"30 MeV B³⁺ ion"}}},
       {"data":{"values":[{}]},"mark":{"type":"text","align":"left","baseline":"middle","font":"Liberation Sans","fontSize":13,"color":"#222"},
        "encoding":{"x":{"datum":-3.119,"type":"quantitative","axis":null},"y":{"datum":5.626,"type":"quantitative","axis":null},"text":{"value":"60 MeV B³⁺ ion"}}},
       {"data":{"values":[{}]},"mark":{"type":"text","align":"left","baseline":"middle","font":"Liberation Sans","fontSize":13,"color":"#222"},
        "encoding":{"x":{"datum":-3.119,"type":"quantitative","axis":null},"y":{"datum":3.938,"type":"quantitative","axis":null},"text":{"value":"60 MeV B³⁺ ion"}}},
       {"data":{"values":[{}]},"mark":{"type":"text","align":"left","baseline":"middle","font":"Liberation Sans","fontSize":13,"color":"#222"},
        "encoding":{"x":{"datum":-3.119,"type":"quantitative","axis":null},"y":{"datum":3.525,"type":"quantitative","axis":null},"text":{"value":"decapped diode"}}},
       {"data":{"values":[{}]},"mark":{"type":"text","font":"Lato","fontSize":27,"color":"#000"},
        "encoding":{"x":{"datum":-1.83,"type":"quantitative","axis":null},"y":{"datum":7.13,"type":"quantitative","axis":null},"text":{"value":"(a)"}}}
      ]},
     {"width":500,"height":340,
      "resolve":{"scale":{"shape":"independent","fill":"independent","stroke":"independent","size":"independent"},"axis":{"x":"independent","y":"independent"}},
      "layer":[
       {"data":{"name":"B"},"transform":[{"filter":{"field":"s","oneOf":["u","g5"]}}],"mark":{"type":"line","strokeDash":[2,2],"strokeWidth":1,"color":"#777"},
        "encoding":{
         "x":{"field":"v","type":"quantitative","scale":{"domain":[-7.464,0.536],"reverse":true,"nice":false,"zero":false},
          "axis":{"orient":"bottom","values":[0,-1,-2,-3,-4,-5,-6,-7],"labelExpr":"'' + datum.value","title":"Voltage (V)","titleFont":"Liberation Sans","titleFontSize":14,"titleFontWeight":"normal","titleColor":"#222","titleX":215,"titleY":85,"titleBaseline":"middle","labelFont":"Liberation Sans","labelFontSize":11,"labelFontWeight":"bold","labelColor":"#333","labelPadding":6,"tickSize":5,"tickWidth":1.5,"tickColor":"#222","domainColor":"#111","domainWidth":2,"grid":false,"labelFlush":false,"labelOverlap":false}},
         "y":{"field":"c","type":"quantitative","scale":{"type":"log","domain":[3.44e-12,2.967e-10],"nice":false},
          "axis":{"orient":"left","values":[1e-11,1e-10],"labelExpr":"datum.value > 5e-11 ? '1E-10' : '1E-11'","title":"Capacitance (F)","titleFont":"Liberation Sans","titleFontSize":14,"titleFontWeight":"normal","titleColor":"#222","titleX":-72,"titleY":170,"titleBaseline":"middle","titleAlign":"center","titleAngle":270,"labelFont":"Liberation Sans","labelFontSize":10,"labelFontWeight":"bold","labelColor":"#333","labelPadding":5,"tickSize":5,"tickWidth":1.5,"tickColor":"#222","domainColor":"#111","domainWidth":2,"grid":false,"labelFlush":false,"labelOverlap":false}},
         "detail":{"field":"s","type":"nominal"}}},
       {"data":{"name":"B"},"mark":{"type":"point","strokeWidth":1,"opacity":1},
        "encoding":{
         "x":{"field":"v","type":"quantitative","axis":null},
         "y":{"field":"c","type":"quantitative","axis":null},
         "shape":{"field":"s","type":"nominal","scale":{"domain":["u","g1","g2","g3","g4","g5"],"range":["square","circle","triangle-up","triangle-down","diamond","triangle-left"]},"legend":null},
         "fill":{"field":"s","type":"nominal","scale":{"domain":["u","g1","g2","g3","g4","g5"],"range":["#000","#fff","#fff","#fff","#fff","#fff"]},"legend":null},
         "stroke":{"field":"s","type":"nominal","scale":{"domain":["u","g1","g2","g3","g4","g5"],"range":["#000","#999","#999","#999","#999","#999"]},"legend":null},
         "size":{"field":"s","type":"nominal","scale":{"domain":["u","g1","g2","g3","g4","g5"],"range":[30,45,45,45,45,45]},"legend":null}}},
       {"data":{"values":[]},"mark":{"type":"point","opacity":1,"strokeWidth":1,"filled":true},
        "encoding":{
         "x":{"field":"v","type":"quantitative","axis":{"orient":"bottom","values":[0.5,-0.5,-1.5,-2.5,-3.5,-4.5,-5.5,-6.5],"labels":false,"domain":false,"tickSize":3,"tickWidth":1.2,"tickColor":"#222","title":null,"grid":false}},
         "y":{"field":"c","type":"quantitative","axis":{"orient":"left","values":[4e-12,5e-12,6e-12,7e-12,8e-12,9e-12,2e-11,3e-11,4e-11,5e-11,6e-11,7e-11,8e-11,9e-11,2e-10],"labels":false,"domain":false,"tickSize":3,"tickWidth":1.2,"tickColor":"#222","title":null,"grid":false}},
         "shape":{"field":"s","type":"nominal","scale":{"domain":["u","h","g1","g2","g3","g4","g5"],"range":[
           "M-2.1,-1M1.5,1M-1.85,0H-1.6M1.25,0H1.5M-0.35,-0.35H0.35V0.35H-0.35Z",
           "M-2.1,-1M1.5,1",
           "M-2.1,-1M1.5,1M0.38,0A0.38,0.38 0 1 1 -0.38,0A0.38,0.38 0 1 1 0.38,0",
           "M-2.1,-1M1.5,1M0,-0.42L0.44,0.34L-0.44,0.34Z",
           "M-2.1,-1M1.5,1M0,0.42L0.44,-0.34L-0.44,-0.34Z",
           "M-2.1,-1M1.5,1M0,-0.45L0.38,0L0,0.45L-0.38,0Z",
           "M-2.1,-1M1.5,1M-2,0H-1.05M0,0H1.1M-1.05,0L-0.1,-0.42L-0.1,0.42Z"]},
          "legend":{"orient":"none","legendX":329.5,"legendY":79,"title":null,"symbolSize":285,"symbolStrokeWidth":1,"labelOffset":12.6,"rowPadding":-3,"padding":0,"labelFont":"Liberation Sans","labelFontSize":14,"labelFontWeight":"bold","labelColor":"#222","labelLimit":300,
           "labelExpr":"['Un irradiated','','22 Gy','157 Gy','11.5 kGy','\u00a020 kGy','30 kGy'][indexof(['u','h','g1','g2','g3','g4','g5'], datum.value)]"}},
         "fill":{"field":"s","type":"nominal","scale":{"domain":["u","h","g1","g2","g3","g4","g5"],"range":["#000","transparent","transparent","transparent","transparent","transparent","transparent"]},
          "legend":{"orient":"none","legendX":329.5,"legendY":79,"title":null,"symbolSize":285,"symbolStrokeWidth":1,"labelOffset":12.6,"rowPadding":-3,"padding":0,"labelFont":"Liberation Sans","labelFontSize":14,"labelFontWeight":"bold","labelColor":"#222","labelLimit":300}},
         "stroke":{"field":"s","type":"nominal","scale":{"domain":["u","h","g1","g2","g3","g4","g5"],"range":["#000","#888","#999","#999","#999","#999","#666"]},
          "legend":{"orient":"none","legendX":329.5,"legendY":79,"title":null,"symbolSize":285,"symbolStrokeWidth":1,"labelOffset":12.6,"rowPadding":-3,"padding":0,"labelFont":"Liberation Sans","labelFontSize":14,"labelFontWeight":"bold","labelColor":"#222","labelLimit":300}}}},
       {"data":{"values":[{}]},"mark":{"type":"text","align":"left","baseline":"middle","font":"Liberation Sans","fontSize":14,"fontWeight":"bold","color":"#222"},
        "encoding":{"x":{"datum":-4.584,"type":"quantitative","axis":null},"y":{"datum":7.11e-11,"type":"quantitative","axis":null},"text":{"value":"Gamma ray dose"}}},
       {"data":{"values":[{}]},"mark":{"type":"text","font":"Lato","fontSize":28,"color":"#000"},
        "encoding":{"x":{"datum":-0.65,"type":"quantitative","axis":null},"y":{"datum":1.67e-10,"type":"quantitative","axis":null},"text":{"value":"(b)"}}}
      ]}
    ]}
   ]},
   {"width":18,"height":0.001,"data":{"values":[{}]},
    "layer":[
     {"mark":{"type":"text","align":"left","baseline":"middle","font":"Liberation Serif","fontSize":28,"fontWeight":"bold","lineHeight":29,"color":"#000"},"encoding":{"text":{"value":["Figure 2. (a)",""]}}},
     {"mark":{"type":"text","align":"left","baseline":"middle","font":"Liberation Serif","fontSize":28,"lineHeight":29,"dx":154,"color":"#000"},"encoding":{"text":{"value":["Capacitance measurements for B ion irradiated MRD 500 photo diode. (b) Co-60 gamma",""]}}},
     {"mark":{"type":"text","align":"left","baseline":"middle","font":"Liberation Serif","fontSize":28,"lineHeight":29,"color":"#000"},"encoding":{"text":{"value":["","irradiated MRD 500 photo detector"]}}}
    ]}
  ]}
 ]}
]
}
